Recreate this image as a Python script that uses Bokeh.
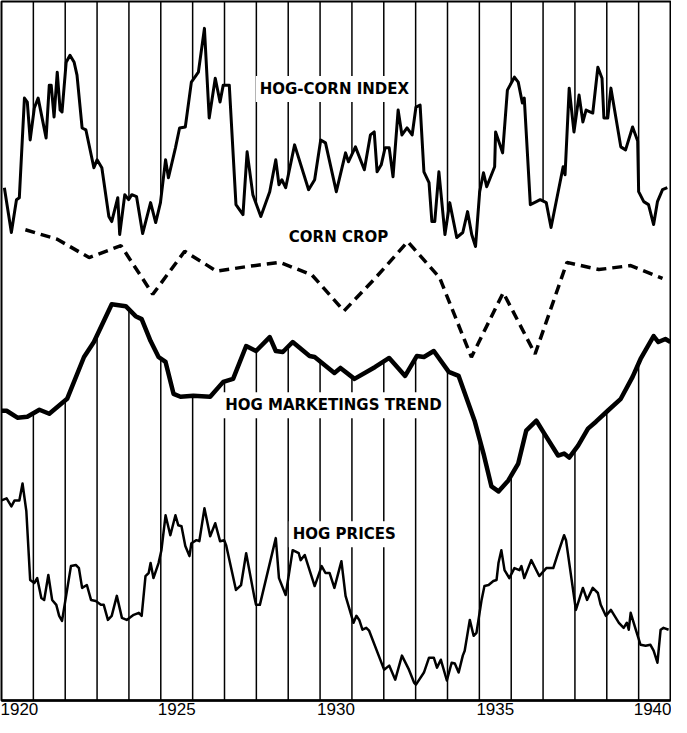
import numpy as np
from bokeh.plotting import figure
from bokeh.models import Range1d, FixedTicker, Label
from bokeh.embed import file_html
from bokeh.resources import INLINE

# ---------------- data ----------------
tick_years = [1920, 1925, 1930, 1935, 1940]
tick_labels = ["1920", "1925", "1930", "1935", "1940"]
grid_years = list(range(1921, 1941))

# Hog-corn price ratio (monthly-ish)
hci_t = [1920.09, 1920.31, 1920.47, 1920.56, 1920.72, 1920.81, 1920.90, 1921.03, 1921.15, 1921.40,
         1921.50, 1921.56, 1921.65, 1921.75, 1921.84, 1921.90, 1922.03, 1922.15, 1922.28, 1922.37,
         1922.53, 1922.65, 1922.90, 1923.00, 1923.15, 1923.37, 1923.46, 1923.65, 1923.71, 1923.87,
         1923.99, 1924.09, 1924.24, 1924.43, 1924.68, 1924.84, 1924.99, 1925.15, 1925.24, 1925.46,
         1925.59, 1925.77, 1925.96, 1926.18, 1926.37, 1926.52, 1926.71, 1926.86, 1926.96, 1927.15,
         1927.36, 1927.58, 1927.71, 1927.89, 1928.14, 1928.42, 1928.61, 1928.71, 1928.80, 1928.92,
         1929.20, 1929.64, 1929.83, 1930.02, 1930.17, 1930.51, 1930.80, 1930.89, 1931.11, 1931.39,
         1931.58, 1931.70, 1931.79, 1931.92, 1932.04, 1932.17, 1932.29, 1932.45, 1932.57, 1932.73,
         1932.89, 1933.01, 1933.14, 1933.26, 1933.42, 1933.51, 1933.60, 1933.73, 1933.92, 1934.07,
         1934.29, 1934.48, 1934.63, 1934.76, 1934.88, 1935.01, 1935.13, 1935.23, 1935.48, 1935.51,
         1935.73, 1935.88, 1936.10, 1936.22, 1936.35, 1936.41, 1936.60, 1936.79, 1936.91, 1937.10,
         1937.25, 1937.63, 1937.69, 1937.82, 1937.97, 1938.13, 1938.25, 1938.35, 1938.56, 1938.72,
         1938.85, 1938.91, 1939.03, 1939.13, 1939.44, 1939.59, 1939.81, 1939.97, 1940.00, 1940.16,
         1940.31, 1940.47, 1940.59, 1940.75, 1940.90]
hci_v = [9.25, 7.0, 8.65, 8.75, 13.75, 13.55, 11.65, 13.25, 13.75, 11.75,
         14.4, 14.4, 12.8, 15.05, 13.15, 13.05, 15.55, 15.9, 15.55, 14.9,
         12.25, 12.15, 10.25, 10.65, 10.25, 7.8, 7.55, 8.75, 6.9, 8.9,
         8.65, 8.9, 8.8, 6.95, 8.5, 7.5, 8.5, 10.65, 9.75, 11.25,
         12.25, 12.3, 14.55, 15.05, 17.25, 12.75, 14.75, 13.55, 14.4, 14.4,
         8.4, 7.9, 11.05, 8.9, 7.8, 9.05, 10.65, 9.4, 9.65, 9.25,
         11.4, 9.15, 9.65, 11.65, 11.5, 9.05, 11.0, 10.55, 11.3, 10.15,
         11.9, 12.05, 10.05, 10.4, 11.25, 11.25, 9.8, 13.15, 11.9, 12.25,
         11.9, 13.3, 13.4, 10.05, 9.5, 7.55, 7.55, 10.05, 6.9, 8.5,
         6.75, 7.0, 8.05, 6.9, 6.3, 9.05, 10.0, 9.3, 10.3, 12.05,
         11.0, 14.15, 14.8, 14.55, 13.5, 13.75, 8.4, 8.55, 8.65, 8.5,
         7.25, 10.3, 9.9, 14.25, 12.05, 13.9, 12.55, 13.15, 13.0, 15.3,
         14.75, 12.75, 12.75, 14.25, 11.3, 11.15, 12.3, 11.6, 9.05, 8.55,
         8.4, 7.4, 8.55, 9.15, 9.25]

# Corn crop, billion bushels (one value per harvest year)
corn_year = list(range(1920, 1941))
corn_crop = [3.06, 2.94, 2.71, 2.86, 2.25, 2.79, 2.54, 2.60, 2.65, 2.49,
             2.04, 2.46, 2.91, 2.46, 1.46, 2.27, 1.50, 2.65, 2.56, 2.61, 2.45]

# Hog marketings trend (index)
hmt_t = [1920.00, 1920.16, 1920.50, 1920.81, 1921.19, 1921.50, 1922.06, 1922.59, 1922.90, 1923.46,
         1923.90, 1924.21, 1924.40, 1924.68, 1924.93, 1925.15, 1925.40, 1925.62, 1926.02, 1926.55,
         1926.96, 1927.27, 1927.68, 1927.99, 1928.42, 1928.61, 1928.83, 1929.14, 1929.67, 1929.83,
         1930.45, 1930.64, 1931.08, 1931.73, 1932.17, 1932.67, 1933.04, 1933.26, 1933.57, 1934.04,
         1934.35, 1934.85, 1935.13, 1935.38, 1935.60, 1935.91, 1936.22, 1936.47, 1936.79, 1937.04,
         1937.47, 1937.66, 1937.82, 1938.10, 1938.41, 1938.66, 1939.03, 1939.44, 1939.81, 1940.06,
         1940.47, 1940.62, 1940.84, 1941.00]
hmt_v = [91.5, 91.5, 88.0, 88.5, 92.0, 90.0, 97.5, 118.5, 126.0, 145.0,
         144.0, 139.0, 137.5, 126.5, 118.5, 116.0, 100.0, 98.5, 99.0, 98.5,
         106.0, 107.5, 124.0, 121.5, 128.5, 121.5, 121.0, 126.0, 119.0, 118.5,
         110.5, 113.0, 107.5, 113.5, 118.0, 109.0, 119.0, 118.5, 121.5, 111.0,
         109.0, 86.5, 70.0, 53.5, 51.0, 56.5, 65.0, 81.5, 86.5, 80.0,
         69.0, 70.0, 68.0, 74.0, 82.5, 86.0, 91.5, 97.5, 108.5, 117.5,
         129.0, 126.0, 127.5, 126.0]

# Hog prices, dollars per hundredweight
hp_t = [1920.00, 1920.16, 1920.31, 1920.41, 1920.56, 1920.66, 1920.78, 1920.90, 1921.03, 1921.12,
        1921.25, 1921.34, 1921.47, 1921.59, 1921.72, 1921.81, 1921.90, 1922.18, 1922.34, 1922.43,
        1922.53, 1922.68, 1922.81, 1922.96, 1923.12, 1923.21, 1923.34, 1923.46, 1923.62, 1923.78,
        1923.93, 1924.15, 1924.31, 1924.40, 1924.52, 1924.62, 1924.68, 1924.77, 1924.93, 1925.02,
        1925.15, 1925.30, 1925.46, 1925.55, 1925.65, 1925.77, 1925.90, 1925.96, 1926.12, 1926.21,
        1926.37, 1926.55, 1926.71, 1926.86, 1926.99, 1927.05, 1927.36, 1927.52, 1927.68, 1927.93,
        1927.99, 1928.11, 1928.61, 1928.71, 1928.92, 1929.14, 1929.33, 1929.39, 1929.52, 1929.83,
        1930.05, 1930.17, 1930.30, 1930.45, 1930.67, 1930.80, 1931.05, 1931.14, 1931.23, 1931.33,
        1931.45, 1931.54, 1932.01, 1932.17, 1932.36, 1932.57, 1932.79, 1932.95, 1933.01, 1933.26,
        1933.42, 1933.57, 1933.67, 1933.79, 1933.98, 1934.13, 1934.23, 1934.35, 1934.48, 1934.54,
        1934.70, 1934.82, 1934.91, 1935.07, 1935.16, 1935.29, 1935.44, 1935.54, 1935.60, 1935.69,
        1935.79, 1935.94, 1936.10, 1936.26, 1936.32, 1936.41, 1936.63, 1936.88, 1937.10, 1937.32,
        1937.47, 1937.66, 1937.72, 1938.03, 1938.25, 1938.38, 1938.56, 1938.72, 1938.81, 1938.97,
        1939.13, 1939.38, 1939.53, 1939.63, 1939.69, 1939.75, 1939.91, 1940.06, 1940.22, 1940.37,
        1940.47, 1940.59, 1940.69, 1940.78, 1940.94]
hp_v = [13.88, 14.0, 13.53, 13.88, 13.88, 14.88, 13.24, 9.18, 9.0, 9.29,
        8.12, 8.0, 9.47, 8.0, 7.71, 7.06, 6.76, 10.0, 10.06, 9.88,
        8.71, 8.88, 8.0, 7.94, 7.71, 7.71, 6.82, 7.06, 8.24, 6.94,
        6.82, 7.12, 7.24, 7.06, 9.41, 9.59, 10.18, 9.29, 10.18, 10.94,
        13.0, 11.82, 13.0, 12.41, 12.35, 11.18, 10.59, 11.35, 11.53, 11.47,
        13.41, 11.76, 12.53, 11.47, 11.53, 11.24, 8.59, 8.88, 10.76, 8.24,
        7.71, 7.71, 11.65, 9.29, 8.29, 10.94, 10.76, 10.35, 10.65, 8.82,
        10.0, 9.59, 9.59, 8.71, 10.29, 8.24, 6.65, 7.06, 6.82, 6.24,
        6.35, 6.18, 3.88, 4.12, 3.29, 4.71, 3.88, 3.12, 3.0, 3.71,
        4.59, 4.59, 4.0, 4.47, 3.24, 4.29, 4.24, 3.71, 4.71, 5.0,
        6.82, 5.88, 6.06, 8.0, 8.82, 8.88, 9.12, 9.18, 10.18, 10.94,
        9.76, 9.29, 9.88, 9.76, 10.0, 9.29, 10.35, 9.41, 9.88, 9.88,
        10.76, 11.82, 11.53, 7.41, 8.71, 8.0, 8.71, 8.41, 7.71, 7.06,
        7.41, 6.65, 6.35, 6.65, 6.24, 7.24, 6.24, 5.35, 5.29, 5.35,
        5.0, 4.29, 6.24, 6.35, 6.24]

# ---------------- figure ----------------
HCI_RANGE = (-16.5, 18.6)
CORN_RANGE = (-2.85, 5.925)
HMT_RANGE = (-54.0, 297.0)
HP_RANGE = (2.0588, 43.353)

p = figure(width=671, height=717, x_range=Range1d(1920, 1941),
           y_range=Range1d(*HCI_RANGE), y_axis_location=None,
           output_backend="svg", toolbar_location=None,
           min_border_left=1, min_border_right=1, min_border_top=1, min_border_bottom=0,
           background_fill_color="white", border_fill_color="white")
p.extra_y_ranges = {"corn": Range1d(*CORN_RANGE), "hmt": Range1d(*HMT_RANGE),
                    "hp": Range1d(*HP_RANGE)}
p.grid.visible = False
p.outline_line_color = "black"
p.outline_line_width = 2

ax = p.xaxis[0]
ax.ticker = FixedTicker(ticks=[y + 0.5 for y in tick_years])
ax.major_label_overrides = {y + 0.5: lab for y, lab in zip(tick_years, tick_labels)}
ax.major_tick_line_color = None
ax.minor_tick_line_color = None
ax.major_tick_out = 0
ax.major_tick_in = 0
ax.axis_line_color = "black"
ax.axis_line_width = 2.5
ax.major_label_standoff = 2
ax.major_label_text_font = "Liberation Sans"
ax.major_label_text_font_size = "17px"
ax.major_label_text_color = "black"

# vertical year lines: from top down to the hog-corn index, and from the
# marketings trend down to the bottom
gy = np.array(grid_years, dtype=float)
hci_at = np.interp(gy, hci_t, hci_v)
hmt_at = np.interp(gy, hmt_t, hmt_v)
p.segment(x0=gy, y0=[HCI_RANGE[1]] * len(gy), x1=gy, y1=hci_at,
          line_color="black", line_width=1.5)
p.segment(x0=gy, y0=hmt_at, x1=gy, y1=[HMT_RANGE[0]] * len(gy),
          line_color="black", line_width=1.5, y_range_name="hmt")

# series
p.line(hci_t, hci_v, line_color="black", line_width=3, line_join="round")
p.line([y + 0.75 for y in corn_year], corn_crop, y_range_name="corn",
       line_color="black", line_width=3.5, line_dash="10 6")
p.line(hmt_t, hmt_v, y_range_name="hmt", line_color="black", line_width=4.5,
       line_join="round")
p.line(hp_t, hp_v, y_range_name="hp", line_color="black", line_width=2.5,
       line_join="round")

lab_kw = dict(text_align="center", text_baseline="middle", text_font="DejaVu Sans",
              text_font_style="bold", text_font_size="15px", text_color="black",
              background_fill_color="white", padding=4)
p.add_layout(Label(x=1930.45, y=14.2, text="HOG-CORN INDEX", **lab_kw))
p.add_layout(Label(x=1930.58, y=2.97, y_range_name="corn", text="CORN CROP", **lab_kw))
p.add_layout(Label(x=1930.42, y=94.25, y_range_name="hmt", text="HOG MARKETINGS TREND", **lab_kw))
p.add_layout(Label(x=1930.76, y=11.88, y_range_name="hp", text="HOG PRICES", **lab_kw))

open("out.html", "w").write(file_html(p, INLINE))
